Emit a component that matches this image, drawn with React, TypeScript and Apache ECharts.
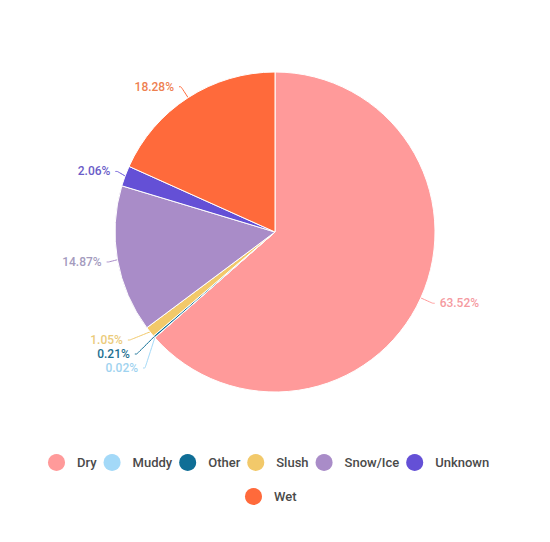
import { useEffect, useRef } from 'react'
import * as echarts from 'echarts'

const categories = ['Dry', 'Muddy', 'Other', 'Slush', 'Snow/Ice', 'Unknown', 'Wet']
const shares = [63.52, 0.02, 0.21, 1.05, 14.87, 2.06, 18.28]
const colors = ['#FF9A9A', '#A3D9F8', '#0F6E96', '#F2C96A', '#A98CC8', '#6450D6', '#FF6A3B']
const labelColors = ['#F59A9F', '#9FD3F0', '#1E6F90', '#EBCB7A', '#A49BBE', '#6A5CC8', '#EE8050']

export default function App() {
  const chartRef = useRef<HTMLDivElement>(null)

  useEffect(() => {
    if (!chartRef.current) return
    const chart = echarts.init(chartRef.current, null, { renderer: 'svg' })

    const data = categories.map((name, i) => ({
      name,
      value: shares[i],
      itemStyle: { color: colors[i] },
      label: { color: labelColors[i] },
    }))

    const legendBase = {
      icon: 'circle',
      itemWidth: 31,
      itemHeight: 17,
      itemGap: 7,
      itemStyle: { borderWidth: 0 },
      textStyle: { fontFamily: 'Roboto', fontSize: 13, color: '#4a4a4a', fontWeight: 500 },
    }

    chart.setOption({
      animation: false,
      textStyle: { fontFamily: 'Roboto' },
      legend: [
        { ...legendBase, left: 35, top: 441, data: categories.slice(0, 6) },
        { ...legendBase, left: 232, top: 475, data: categories.slice(6) },
      ],
      series: [
        {
          type: 'pie',
          center: ['50%', 224],
          radius: 160,
          startAngle: 90,
          clockwise: true,
          data,
          itemStyle: { borderColor: '#fff', borderWidth: 1 },
          label: {
            formatter: '{c}%',
            fontSize: 12,
            fontWeight: 500,
            fontFamily: 'Roboto',
          },
          labelLine: { length: 13, length2: 2, smooth: 0.2 },
        },
      ],
    })

    return () => {
      chart.dispose()
    }
  }, [])

  return <div ref={chartRef} style={{ width: '100%', height: 526 }} />
}
